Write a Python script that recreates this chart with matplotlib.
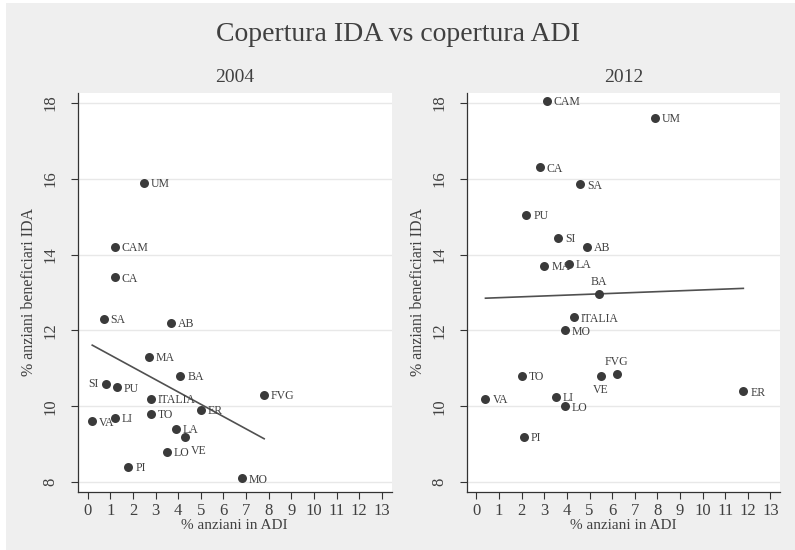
import numpy as np
import matplotlib
matplotlib.use("Agg")
import matplotlib.pyplot as plt
from matplotlib.patches import Rectangle

# Data: % anziani in ADI (x) vs % anziani beneficiari IDA (y)
regions_2004 = ["UM", "CAM", "CA", "SA", "AB", "MA", "BA", "SI", "PU", "FVG",
                "ITALIA", "ER", "TO", "LI", "VA", "LA", "VE", "LO", "PI", "MO"]
adi_2004 = [2.5, 1.2, 1.2, 0.7, 3.7, 2.7, 4.1, 0.8, 1.3, 7.8,
            2.8, 5.0, 2.8, 1.2, 0.2, 3.9, 4.3, 3.5, 1.8, 6.8]
ida_2004 = [15.9, 14.2, 13.4, 12.3, 12.2, 11.3, 10.8, 10.6, 10.5, 10.3,
            10.2, 9.9, 9.8, 9.7, 9.6, 9.4, 9.2, 8.8, 8.4, 8.1]

regions_2012 = ["CAM", "UM", "CA", "SA", "PU", "SI", "AB", "MA", "LA", "BA",
                "ITALIA", "MO", "TO", "VE", "FVG", "ER", "VA", "LI", "LO", "PI"]
adi_2012 = [3.1, 7.9, 2.8, 4.6, 2.2, 3.6, 4.9, 3.0, 4.1, 5.4,
            4.3, 3.9, 2.0, 5.5, 6.2, 11.8, 0.4, 3.5, 3.9, 2.1]
ida_2012 = [18.05, 17.6, 16.3, 15.85, 15.05, 14.45, 14.2, 13.7, 13.75, 12.95,
            12.35, 12.0, 10.8, 10.8, 10.85, 10.4, 10.2, 10.25, 10.0, 9.2]

x_ticks = list(range(0, 14))
y_ticks = [8, 10, 12, 14, 16, 18]

# label placement (clock-like), default is to the right of the marker
label_pos = {
    "2004": {"SI": "left", "VE": "lowright"},
    "2012": {"BA": "above", "FVG": "above", "VE": "below"},
}

txt = "#404040"
dot = "#3a3a3a"
bg = "#efefef"
font = "Liberation Serif"
plt.rcParams["font.family"] = [font, "DejaVu Serif"]

fig = plt.figure(figsize=(7.95, 5.5), dpi=100)
fig.patch.set_facecolor("white")
fig.patches.append(Rectangle((6 / 795, 0), 1 - 6 / 795, 547 / 550,
                             transform=fig.transFigure, facecolor=bg,
                             edgecolor="none", zorder=-10))

fig.text(0.5, 0.937, "Copertura IDA vs copertura ADI", ha="center", va="center",
         fontsize=20, color=txt)

panels = [
    ("2004", regions_2004, adi_2004, ida_2004, 78 / 795),
    ("2012", regions_2012, adi_2012, ida_2012, 466.7 / 795),
]

for year, regs, xs, ys, left in panels:
    ax = fig.add_axes([left, 58 / 550, 313.5 / 795, 399 / 550])
    ax.set_facecolor("white")
    ax.set_xlim(-0.43, 13.43)
    ax.set_ylim(7.74, 18.26)
    ax.set_xticks(x_ticks)
    ax.set_yticks(y_ticks)
    ax.yaxis.grid(True, color="#e8e8e8", linewidth=1.0)
    ax.set_axisbelow(True)
    for s in ["top", "right"]:
        ax.spines[s].set_visible(False)
    for s in ["left", "bottom"]:
        ax.spines[s].set_color("#333333")
        ax.spines[s].set_linewidth(0.9)
    ax.tick_params(axis="both", colors="#333333", labelcolor=txt,
                   labelsize=12, length=5, width=0.8, direction="out")
    ax.tick_params(axis="y", pad=9)
    ax.tick_params(axis="x", pad=3)
    for lab in ax.get_yticklabels():
        lab.set_rotation(90)
        lab.set_va("center")

    ax.scatter(xs, ys, s=42, color=dot, zorder=3, linewidths=0)

    # linear fit over the observed range
    b, a = np.polyfit(xs, ys, 1)
    xf = np.array([min(xs), max(xs)])
    ax.plot(xf, a + b * xf, color="#505050", linewidth=1.2, zorder=2)

    pos = label_pos[year]
    for r, x, y in zip(regs, xs, ys):
        p = pos.get(r, "right")
        if p == "right":
            off, ha, va = (5, -1), "left", "center"
        elif p == "left":
            off, ha, va = (-5, 0), "right", "center"
        elif p == "lowright":
            off, ha, va = (4, -10), "left", "center"
        elif p == "above":
            off, ha, va = (0, 9), "center", "center"
        else:
            off, ha, va = (0, -10), "center", "center"
        ax.annotate(r, (x, y), xytext=off, textcoords="offset points",
                    ha=ha, va=va, fontsize=8.5, color=txt, zorder=4)

    ax.set_title(year, fontsize=14, color=txt, pad=8)
    ax.set_xlabel("% anziani in ADI", fontsize=11, color=txt, labelpad=0)
    ax.set_ylabel("% anziani beneficiari IDA", fontsize=11.5, color=txt, labelpad=4)

fig.savefig("out.png", dpi=100, facecolor=fig.get_facecolor())
